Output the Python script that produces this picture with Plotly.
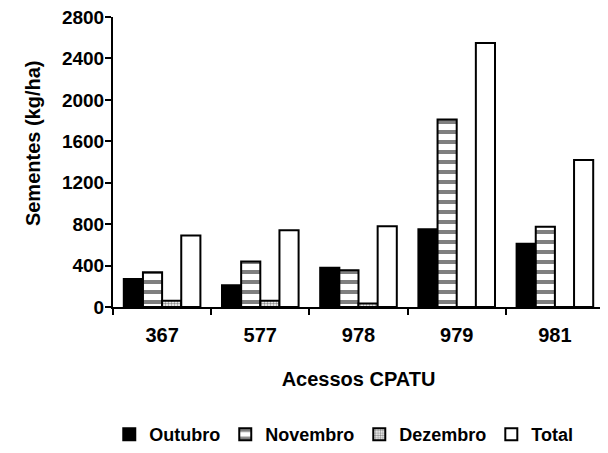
import plotly.graph_objects as go

categories = ["367", "577", "978", "979", "981"]
outubro = [270, 210, 380, 750, 610]
novembro = [335, 440, 355, 1810, 775]
dezembro = [60, 60, 35, 0, 0]
total = [690, 740, 780, 2550, 1420]
y_ticks = [0, 400, 800, 1200, 1600, 2000, 2400, 2800]

FONT = "Liberation Sans"

fig = go.Figure()
fig.add_trace(go.Bar(
    name="Outubro", x=categories, y=outubro,
    marker=dict(color="black", line=dict(color="black", width=2)),
))
fig.add_trace(go.Bar(
    name="Novembro", x=categories, y=novembro,
    marker=dict(color="white", line=dict(color="black", width=2),
                pattern=dict(shape="-", fgcolor="black", bgcolor="white",
                             size=10, solidity=0.4, fillmode="overlay")),
))
fig.add_trace(go.Bar(
    name="Dezembro", x=categories, y=dezembro,
    marker=dict(color="white", line=dict(color="black", width=2),
                pattern=dict(shape=".", fgcolor="#222222", bgcolor="white",
                             size=3, solidity=0.5, fillmode="overlay")),
))
fig.add_trace(go.Bar(
    name="Total", x=categories, y=total,
    marker=dict(color="white", line=dict(color="black", width=2)),
))

# page body has an 8px default margin, so the figure is 8px smaller and margins shifted
fig.update_layout(
    width=600, height=445,
    margin=dict(l=105, r=4, t=9, b=146, autoexpand=False),
    paper_bgcolor="white", plot_bgcolor="white",
    barmode="group", bargap=0.22, bargroupgap=0,
    font=dict(family=FONT, color="black", size=18),
    showlegend=True,
    legend=dict(orientation="h", x=0.47, xanchor="center", y=-0.44, yanchor="middle",
                font=dict(family=FONT, size=18, weight="bold"),
                itemwidth=30, traceorder="normal", tracegroupgap=0),
    xaxis=dict(
        automargin=False,
        showline=True, linecolor="black", linewidth=2,
        ticks="outside", tickson="boundaries", ticklen=6, tickwidth=1.5, tickcolor="black",
        tickfont=dict(family=FONT, size=20, weight="bold"),
        ticklabelstandoff=9,
        title=dict(text="Acessos CPATU", standoff=27,
                   font=dict(family=FONT, size=20, weight="bold")),
        showgrid=False,
    ),
    yaxis=dict(
        automargin=False,
        range=[0, 2800], tickvals=y_ticks,
        showline=True, linecolor="black", linewidth=2,
        ticks="outside", ticklen=6, tickwidth=1.5, tickcolor="black",
        tickfont=dict(family=FONT, size=19, weight="bold"),
        ticklabeloverflow="allow", ticklabelstandoff=-3,
        showgrid=False, zeroline=False,
    ),
    annotations=[dict(
        text="Sementes (kg/ha)", textangle=-90,
        xref="paper", yref="paper", x=-0.163, y=0.565,
        xanchor="center", yanchor="middle", showarrow=False,
        font=dict(family=FONT, size=20, weight="bold"),
    )],
)

fig.write_html("out.html")
